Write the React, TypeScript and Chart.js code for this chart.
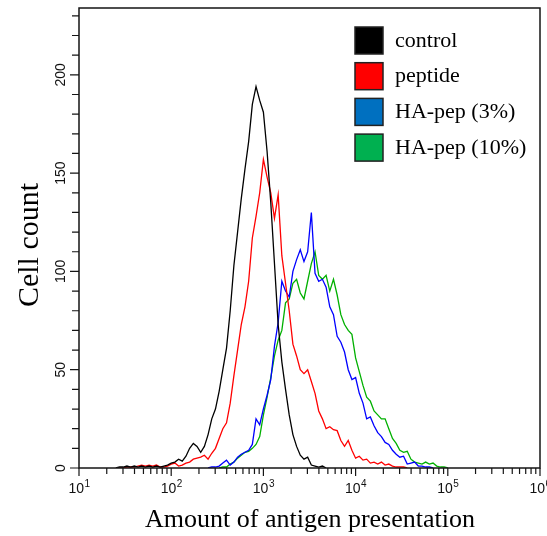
import { useEffect, useRef } from "react";
import { Chart, registerables } from "chart.js";

Chart.register(...registerables);

// ---- data ----
const seriesNames = ["control", "peptide", "HA-pep (3%)", "HA-pep (10%)"];
const lineColors = ["#000000", "#ff0000", "#0000ff", "#00b000"];
const swatchColors = ["#000000", "#ff0000", "#0070c0", "#00b050"];

// histogram bins on a log10 grid (bin width in decades)
const binWidthLog = 0.04;

const controlStartLog = 1.4;
const controlCounts = [
  0, 0.5, 0.5, 1, 0.5, 1, 0.5, 1, 0.5, 1, 0.5, 1, 0.5, 1, 1.5, 2.5, 3, 4.5, 3.5, 6,
  10, 12.5, 11, 8, 11, 17, 25, 30, 39, 50, 61, 80, 103, 120, 137, 152, 166, 185, 194, 187,
  181, 161, 135, 104, 73, 54, 40, 27, 17, 11, 6.5, 4.5, 5.5, 1.5, 1, 0.5, 1, 0,
];

const peptideStartLog = 1.4;
const peptideCounts = [
  0, 0, 0, 0.5, 0.5, 0.5, 1, 1.5, 1, 1.5, 1, 1.5, 0.5, 0.5, 1, 2, 2.5, 1, 1.5, 2.5,
  3, 4.5, 5, 5.5, 6.5, 4.5, 7.5, 10, 15, 20, 23, 33, 47, 60, 73, 82, 95, 117, 128, 140,
  157, 148, 140, 127, 139, 108, 94, 80, 63, 57, 50, 48, 50, 44, 38, 29, 25, 20, 21, 19.5,
  19, 14, 11, 14, 9, 5, 6, 4, 4.5, 2.5, 3, 2, 3, 1.5, 2, 1, 0.5, 0.5, 0.5, 0,
];

const ha3StartLog = 2.4;
const ha3Counts = [
  0, 0.5, 0.5, 1, 2.5, 4, 1.5, 3, 5.5, 7, 8, 9, 12, 25, 22, 30, 37, 45, 62, 74,
  95, 90, 87, 100, 106, 111, 105, 110, 130, 99, 95, 96, 92, 82, 78, 67, 64, 59, 50, 45,
  46, 38, 33, 25, 26, 21.5, 18, 16, 13, 12, 9, 7, 5.5, 6, 2, 2.5, 3, 1, 1, 0.5,
  0.5, 0,
];

const ha10StartLog = 2.52;
const ha10Counts = [
  0, 0.5, 0.5, 2, 3, 5, 6.5, 8, 8.5, 10, 12, 16, 27, 36, 46, 57, 65, 70, 84, 86,
  94, 96, 89, 86, 95, 104, 110, 98, 96, 98, 90, 96, 88, 78, 73, 70, 68, 56, 49, 42,
  36, 34, 29, 27, 25, 25, 20, 15, 12.5, 9, 8, 8.5, 4.5, 3, 2.5, 2, 3, 2, 2.5, 1,
  0.5, 0.5, 0,
];

// axis ticks
const xDecades = [1, 2, 3, 4, 5, 6];
const yMajorTicks = [0, 50, 100, 150, 200];
const yMinorStep = 10;
const yTickTop = 230;
const yMax = 234;

const xTitle = "Amount of antigen presentation";
const yTitle = "Cell count";

const starts = [controlStartLog, peptideStartLog, ha3StartLog, ha10StartLog];
const countsList = [controlCounts, peptideCounts, ha3Counts, ha10Counts];

function toPoints(start: number, counts: number[]) {
  return counts.map((c, i) => ({ x: Math.pow(10, start + i * binWidthLog), y: c }));
}

const SANS = '"Liberation Sans", Arial, sans-serif';
const SERIF = '"Liberation Serif", "Times New Roman", serif';

const decorPlugin = {
  id: "decor",
  afterDraw(chart: any) {
    const { ctx, chartArea: a } = chart;
    const xs = chart.scales.x;
    const ys = chart.scales.y;
    ctx.save();
    ctx.strokeStyle = "#151515";
    ctx.fillStyle = "#111111";

    // frame
    ctx.lineWidth = 1.5;
    ctx.strokeRect(a.left, a.top, a.right - a.left, a.bottom - a.top);

    // tick marks
    ctx.lineWidth = 1.2;
    ctx.beginPath();
    for (let v = 0; v <= yTickTop; v += yMinorStep) {
      const py = ys.getPixelForValue(v);
      const len = yMajorTicks.includes(v) ? 9 : 7;
      ctx.moveTo(a.left - len, py);
      ctx.lineTo(a.left, py);
    }
    for (const d of xDecades) {
      for (let k = 1; k <= 9; k++) {
        const val = k * Math.pow(10, d);
        if (val > xs.max * 1.0001) break;
        const px = xs.getPixelForValue(val);
        const len = k === 1 ? 8 : 6;
        ctx.moveTo(px, a.bottom);
        ctx.lineTo(px, a.bottom + len);
      }
    }
    ctx.stroke();

    // y tick labels (rotated)
    ctx.font = "14px " + SANS;
    ctx.textAlign = "center";
    ctx.textBaseline = "alphabetic";
    for (const v of yMajorTicks) {
      const py = ys.getPixelForValue(v);
      ctx.save();
      ctx.translate(a.left - 14, py);
      ctx.rotate(-Math.PI / 2);
      ctx.fillText(String(v), 0, 0);
      ctx.restore();
    }

    // x tick labels 10^n
    ctx.textAlign = "left";
    for (const d of xDecades) {
      const px = xs.getPixelForValue(Math.pow(10, d));
      ctx.font = "14px " + SANS;
      const w1 = ctx.measureText("10").width;
      ctx.font = "10px " + SANS;
      const w2 = ctx.measureText(String(d)).width;
      const start = px - (w1 + w2) / 2;
      ctx.font = "14px " + SANS;
      ctx.fillText("10", start, a.bottom + 25);
      ctx.font = "10px " + SANS;
      ctx.fillText(String(d), start + w1 + 0.5, a.bottom + 19);
    }

    // axis titles
    ctx.fillStyle = "#000000";
    ctx.textAlign = "center";
    ctx.font = "26px " + SERIF;
    ctx.fillText(xTitle, 310, 527);
    ctx.save();
    ctx.translate(38, 245);
    ctx.rotate(-Math.PI / 2);
    ctx.font = "30px " + SERIF;
    ctx.fillText(yTitle, 0, 0);
    ctx.restore();

    // legend
    ctx.textAlign = "left";
    ctx.font = "22px " + SERIF;
    for (let i = 0; i < seriesNames.length; i++) {
      const top = 27 + i * 35.7;
      ctx.fillStyle = swatchColors[i];
      ctx.fillRect(355, top, 28, 27);
      ctx.lineWidth = 1.5;
      ctx.strokeStyle = "#222222";
      ctx.strokeRect(355, top, 28, 27);
      ctx.fillStyle = "#000000";
      ctx.fillText(seriesNames[i], 395, top + 19.5);
    }
    ctx.restore();
  },
};

export default function App() {
  const canvasRef = useRef<HTMLCanvasElement | null>(null);

  useEffect(() => {
    const canvas = canvasRef.current;
    if (!canvas) return;
    const chart = new Chart(canvas, {
      type: "line",
      data: {
        datasets: seriesNames.map((name, i) => ({
          label: name,
          data: toPoints(starts[i], countsList[i]),
          borderColor: lineColors[i],
          backgroundColor: lineColors[i],
          borderWidth: 1.3,
          pointRadius: 0,
          tension: 0,
          fill: false,
        })),
      },
      options: {
        responsive: false,
        animation: false,
        devicePixelRatio: 1,
        layout: { padding: { left: 0, right: 7, top: 8, bottom: 0 } },
        plugins: { legend: { display: false }, tooltip: { enabled: false } },
        scales: {
          x: {
            type: "logarithmic",
            min: 10,
            max: 1000000,
            ticks: { display: false },
            grid: { display: false },
            border: { display: false },
            afterFit: (s: any) => {
              s.height = 68;
            },
          },
          y: {
            type: "linear",
            min: 0,
            max: yMax,
            ticks: { display: false },
            grid: { display: false },
            border: { display: false },
            afterFit: (s: any) => {
              s.width = 79;
            },
          },
        },
      },
      plugins: [decorPlugin],
    });
    return () => chart.destroy();
  }, []);

  return (
    <div style={{ position: "absolute", left: 0, top: 0, width: 547, height: 536, background: "#fff" }}>
      <canvas ref={canvasRef} width={547} height={536} style={{ display: "block" }} />
    </div>
  );
}
